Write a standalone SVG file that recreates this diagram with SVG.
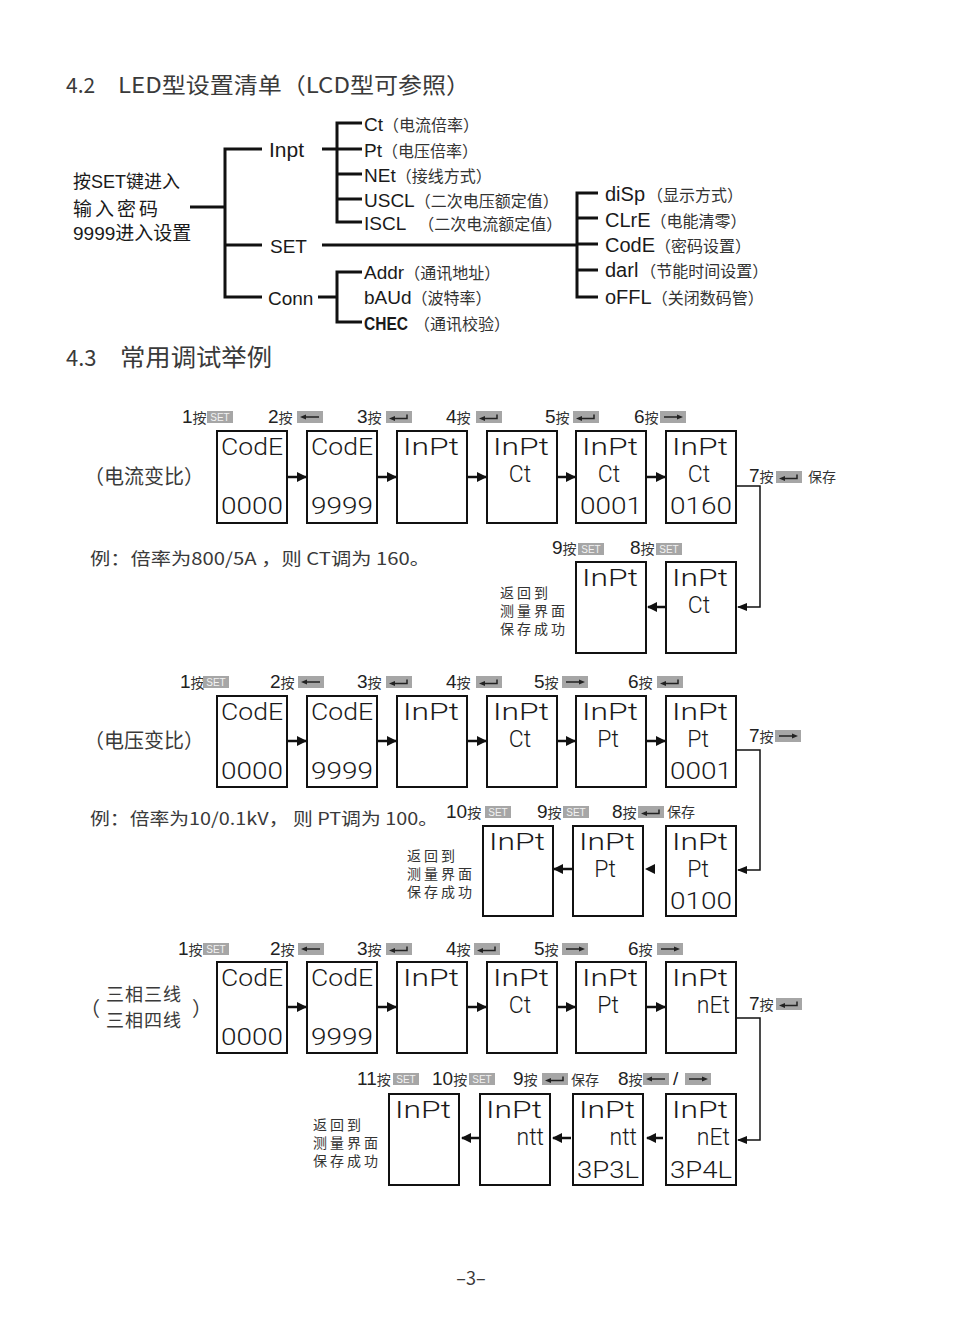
<svg xmlns="http://www.w3.org/2000/svg" xmlns:xlink="http://www.w3.org/1999/xlink" width="957" height="1326" viewBox="0 0 957 1326">
<style>
.h{font-family:"Noto Sans CJK SC","Liberation Sans",sans-serif;fill:#3a3a3a}
.t{font-family:"Liberation Sans","Noto Sans CJK SC",sans-serif;fill:#1a1a1a}
.a{font-family:"Noto Sans CJK SC",sans-serif;font-size:16px;fill:#333}
.tr{fill:none;stroke:#111;stroke-width:3}
.box{fill:#fff;stroke:#111;stroke-width:2}
.lcd{font-family:Roboto,"Liberation Sans",sans-serif;font-weight:300;font-size:23px;fill:#1a1a1a}
.n{font-family:"Liberation Sans",sans-serif;font-size:19px;fill:#222}
.p{font-family:"Noto Sans CJK SC",sans-serif;font-size:14px;fill:#333}
.c{font-family:"Noto Sans CJK SC",sans-serif;font-size:14px;fill:#333;letter-spacing:3px}
.ar{fill:none;stroke:#111;stroke-width:2.5}
.cn{fill:none;stroke:#111;stroke-width:1.5}
</style>
<defs>
<marker id="ah" markerWidth="10" markerHeight="10" refX="9" refY="5" orient="auto" markerUnits="userSpaceOnUse"><path d="M0,0 L10,5 L0,10 z" fill="#111"/></marker>
<marker id="ah2" markerWidth="10" markerHeight="8" refX="9" refY="4" orient="auto" markerUnits="userSpaceOnUse"><path d="M0,0 L10,4 L0,8 z" fill="#111"/></marker>
<g id="bS"><rect width="26" height="12" fill="#a6a6a6"/><text x="13" y="10" font-family="Liberation Sans,sans-serif" font-size="10" fill="#f2f2f2" text-anchor="middle">SET</text></g>
<g id="bL"><rect width="26" height="12" fill="#a6a6a6"/><path d="M7,6 H22" stroke="#222" stroke-width="1.5"/><path d="M3,6 L9,3.5 L9,8.5 z" fill="#222"/></g>
<g id="bR"><rect width="26" height="12" fill="#a6a6a6"/><path d="M4,6 H19" stroke="#222" stroke-width="1.5"/><path d="M23,6 L17,3.5 L17,8.5 z" fill="#222"/></g>
<g id="bE"><rect width="26" height="12" fill="#a6a6a6"/><path d="M7,7.5 H21 V3.5" fill="none" stroke="#222" stroke-width="1.5"/><path d="M3,7.5 L9,5 L9,10 z" fill="#222"/></g>
</defs>
<rect width="957" height="1326" fill="#fff"/>

<!-- headings -->
<g id="head42">
<text class="h" x="66" y="93" font-size="21">4.2</text>
<text class="h" x="118" y="93" font-size="22" textLength="352" lengthAdjust="spacingAndGlyphs">LED型设置清单（LCD型可参照）</text>
</g>
<g id="head43">
<text class="h" x="66" y="366" font-size="22">4.3</text>
<text class="h" x="120" y="366" font-size="24" textLength="152" lengthAdjust="spacingAndGlyphs">常用调试举例</text>
</g>

<!-- tree -->
<g id="tree-lines">
<path class="tr" d="M190,207 H225 M225,147.5 V298.5 M225,149 H262 M225,245 H262 M225,297 H262"/>
<path class="tr" d="M322,149 H337 M337,121.5 V223.5 M337,123 H362 M337,149 H362 M337,174 H362 M337,199 H362 M337,222 H362"/>
<path class="tr" d="M322,245 H577 M577,191.5 V298.5 M577,193 H598 M577,218 H598 M577,244 H598 M577,270 H598 M577,297 H598"/>
<path class="tr" d="M318,297 H337 M337,270.5 V323.5 M337,272 H362 M337,322 H362"/>
</g>
<g id="tree-root">
<text class="t" x="73" y="188" font-size="18">按SET键进入</text>
<text class="t" x="73" y="216" font-size="19" letter-spacing="3">输入密码</text>
<text class="t" x="73" y="240" font-size="19">9999进入设置</text>
</g>
<g id="n-inpt"><text class="t" x="269" y="157" font-size="21">Inpt</text></g>
<g id="n-set"><text class="t" x="270" y="253" font-size="19">SET</text></g>
<g id="n-conn"><text class="t" x="268" y="305" font-size="19">Conn</text></g>
<g id="n-ct"><text class="t" x="364" y="131" font-size="19">Ct<tspan class="a">（电流倍率）</tspan></text></g>
<g id="n-pt"><text class="t" x="364" y="157" font-size="19">Pt<tspan class="a">（电压倍率）</tspan></text></g>
<g id="n-net"><text class="t" x="364" y="182" font-size="19">NEt<tspan class="a">（接线方式）</tspan></text></g>
<g id="n-uscl"><text class="t" x="364" y="207" font-size="19">USCL<tspan class="a">（二次电压额定值）</tspan></text></g>
<g id="n-iscl"><text class="t" x="364" y="230" font-size="19">ISCL<tspan class="a" dx="12">（二次电流额定值）</tspan></text></g>
<g id="n-disp"><text class="t" x="605" y="201" font-size="20">diSp<tspan class="a" dx="2">（显示方式）</tspan></text></g>
<g id="n-clre"><text class="t" x="605" y="227" font-size="20">CLrE<tspan class="a">（电能清零）</tspan></text></g>
<g id="n-code"><text class="t" x="605" y="252" font-size="20">CodE<tspan class="a">（密码设置）</tspan></text></g>
<g id="n-darl"><text class="t" x="605" y="277" font-size="20">darl<tspan class="a" dx="2">（节能时间设置）</tspan></text></g>
<g id="n-offl"><text class="t" x="605" y="304" font-size="20">oFFL<tspan class="a">（关闭数码管）</tspan></text></g>
<g id="n-addr"><text class="t" x="364" y="279" font-size="19">Addr<tspan class="a">（通讯地址）</tspan></text></g>
<g id="n-baud"><text class="t" x="364" y="304" font-size="19">bAUd<tspan class="a">（波特率）</tspan></text></g>
<g id="n-chec"><text class="t" x="364" y="330" font-size="19" font-weight="bold" textLength="44" lengthAdjust="spacingAndGlyphs">CHEC</text><text class="a" x="414" y="330">（通讯校验）</text></g>

<!-- ===== Example 1 ===== -->
<g id="ex1-title"><text class="h" x="84" y="484" font-size="20">（电流变比）</text></g>
<g id="ex1-note"><text class="h" x="90" y="565" font-size="17" textLength="340" lengthAdjust="spacingAndGlyphs">例：倍率为800/5A ，则 CT调为 160。</text></g>
<g id="ex1-labels">
<text x="182" y="423"><tspan class="n">1</tspan><tspan class="p">按</tspan></text><use href="#bS" x="207" y="411"/>
<text x="268" y="423"><tspan class="n">2</tspan><tspan class="p">按</tspan></text><use href="#bL" x="297" y="411"/>
<text x="357" y="423"><tspan class="n">3</tspan><tspan class="p">按</tspan></text><use href="#bE" x="386" y="411"/>
<text x="446" y="423"><tspan class="n">4</tspan><tspan class="p">按</tspan></text><use href="#bE" x="476" y="411"/>
<text x="545" y="423"><tspan class="n">5</tspan><tspan class="p">按</tspan></text><use href="#bE" x="573" y="411"/>
<text x="634" y="423"><tspan class="n">6</tspan><tspan class="p">按</tspan></text><use href="#bR" x="660" y="411"/>
<text x="749" y="482"><tspan class="n">7</tspan><tspan class="p">按</tspan></text><use href="#bE" x="776" y="471"/><text class="p" x="808" y="482">保存</text>
<text x="552" y="554"><tspan class="n">9</tspan><tspan class="p">按</tspan></text><use href="#bS" x="578" y="543"/>
<text x="630" y="554"><tspan class="n">8</tspan><tspan class="p">按</tspan></text><use href="#bS" x="656" y="543"/>
</g>
<g id="ex1-b1"><rect class="box" x="217" y="431" width="70" height="92"/><text class="lcd" x="221" y="455" textLength="62" lengthAdjust="spacingAndGlyphs">CodE</text><text class="lcd" x="221" y="514" textLength="62" lengthAdjust="spacingAndGlyphs">0000</text></g>
<g id="ex1-b2"><rect class="box" x="307" y="431" width="70" height="92"/><text class="lcd" x="311" y="455" textLength="62" lengthAdjust="spacingAndGlyphs">CodE</text><text class="lcd" x="311" y="514" textLength="62" lengthAdjust="spacingAndGlyphs">9999</text></g>
<g id="ex1-b3"><rect class="box" x="397" y="431" width="70" height="92"/><text class="lcd" x="403" y="455" textLength="56" lengthAdjust="spacingAndGlyphs">InPt</text></g>
<g id="ex1-b4"><rect class="box" x="487" y="431" width="70" height="92"/><text class="lcd" x="493" y="455" textLength="56" lengthAdjust="spacingAndGlyphs">InPt</text><text class="lcd" x="520" y="482" text-anchor="middle">Ct</text></g>
<g id="ex1-b5"><rect class="box" x="576" y="431" width="70" height="92"/><text class="lcd" x="582" y="455" textLength="56" lengthAdjust="spacingAndGlyphs">InPt</text><text class="lcd" x="609" y="482" text-anchor="middle">Ct</text><text class="lcd" x="580" y="514" textLength="62" lengthAdjust="spacingAndGlyphs">0001</text></g>
<g id="ex1-b6"><rect class="box" x="666" y="431" width="70" height="92"/><text class="lcd" x="672" y="455" textLength="56" lengthAdjust="spacingAndGlyphs">InPt</text><text class="lcd" x="699" y="482" text-anchor="middle">Ct</text><text class="lcd" x="670" y="514" textLength="62" lengthAdjust="spacingAndGlyphs">0160</text></g>
<g id="ex1-b8"><rect class="box" x="666" y="562" width="70" height="91"/><text class="lcd" x="672" y="586" textLength="56" lengthAdjust="spacingAndGlyphs">InPt</text><text class="lcd" x="699" y="613" text-anchor="middle">Ct</text></g>
<g id="ex1-b9"><rect class="box" x="576" y="562" width="70" height="91"/><text class="lcd" x="582" y="586" textLength="56" lengthAdjust="spacingAndGlyphs">InPt</text></g>
<g id="ex1-ret"><text class="c" x="500" y="598">返回到</text><text class="c" x="500" y="616">测量界面</text><text class="c" x="500" y="634">保存成功</text></g>

<!-- ===== Example 2 ===== -->
<g id="ex2-title"><text class="h" x="84" y="748" font-size="20">（电压变比）</text></g>
<g id="ex2-note"><text class="h" x="90" y="825" font-size="17" textLength="348" lengthAdjust="spacingAndGlyphs">例：倍率为10/0.1kV， 则 PT调为 100。</text></g>
<g id="ex2-labels">
<text x="180" y="688"><tspan class="n">1</tspan><tspan class="p">按</tspan></text><use href="#bS" x="203" y="676"/>
<text x="270" y="688"><tspan class="n">2</tspan><tspan class="p">按</tspan></text><use href="#bL" x="298" y="676"/>
<text x="357" y="688"><tspan class="n">3</tspan><tspan class="p">按</tspan></text><use href="#bE" x="386" y="676"/>
<text x="446" y="688"><tspan class="n">4</tspan><tspan class="p">按</tspan></text><use href="#bE" x="476" y="676"/>
<text x="534" y="688"><tspan class="n">5</tspan><tspan class="p">按</tspan></text><use href="#bR" x="562" y="676"/>
<text x="628" y="688"><tspan class="n">6</tspan><tspan class="p">按</tspan></text><use href="#bE" x="657" y="676"/>
<text x="749" y="742"><tspan class="n">7</tspan><tspan class="p">按</tspan></text><use href="#bR" x="775" y="730"/>
<text x="446" y="818"><tspan class="n">10</tspan><tspan class="p">按</tspan></text><use href="#bS" x="485" y="806"/>
<text x="537" y="818"><tspan class="n">9</tspan><tspan class="p">按</tspan></text><use href="#bS" x="563" y="806"/>
<text x="612" y="818"><tspan class="n">8</tspan><tspan class="p">按</tspan></text><use href="#bE" x="638" y="806"/><text class="p" x="667" y="817">保存</text>
</g>
<g id="ex2-b1"><rect class="box" x="217" y="696" width="70" height="91"/><text class="lcd" x="221" y="720" textLength="62" lengthAdjust="spacingAndGlyphs">CodE</text><text class="lcd" x="221" y="779" textLength="62" lengthAdjust="spacingAndGlyphs">0000</text></g>
<g id="ex2-b2"><rect class="box" x="307" y="696" width="70" height="91"/><text class="lcd" x="311" y="720" textLength="62" lengthAdjust="spacingAndGlyphs">CodE</text><text class="lcd" x="311" y="779" textLength="62" lengthAdjust="spacingAndGlyphs">9999</text></g>
<g id="ex2-b3"><rect class="box" x="397" y="696" width="70" height="91"/><text class="lcd" x="403" y="720" textLength="56" lengthAdjust="spacingAndGlyphs">InPt</text></g>
<g id="ex2-b4"><rect class="box" x="487" y="696" width="70" height="91"/><text class="lcd" x="493" y="720" textLength="56" lengthAdjust="spacingAndGlyphs">InPt</text><text class="lcd" x="520" y="747" text-anchor="middle">Ct</text></g>
<g id="ex2-b5"><rect class="box" x="576" y="696" width="70" height="91"/><text class="lcd" x="582" y="720" textLength="56" lengthAdjust="spacingAndGlyphs">InPt</text><text class="lcd" x="608" y="747" text-anchor="middle">Pt</text></g>
<g id="ex2-b6"><rect class="box" x="666" y="696" width="70" height="91"/><text class="lcd" x="672" y="720" textLength="56" lengthAdjust="spacingAndGlyphs">InPt</text><text class="lcd" x="698" y="747" text-anchor="middle">Pt</text><text class="lcd" x="670" y="779" textLength="62" lengthAdjust="spacingAndGlyphs">0001</text></g>
<g id="ex2-b7"><rect class="box" x="666" y="826" width="70" height="90"/><text class="lcd" x="672" y="850" textLength="56" lengthAdjust="spacingAndGlyphs">InPt</text><text class="lcd" x="698" y="877" text-anchor="middle">Pt</text><text class="lcd" x="670" y="909" textLength="62" lengthAdjust="spacingAndGlyphs">0100</text></g>
<g id="ex2-b9"><rect class="box" x="573" y="826" width="70" height="90"/><text class="lcd" x="579" y="850" textLength="56" lengthAdjust="spacingAndGlyphs">InPt</text><text class="lcd" x="605" y="877" text-anchor="middle">Pt</text></g>
<g id="ex2-b10"><rect class="box" x="483" y="826" width="70" height="90"/><text class="lcd" x="489" y="850" textLength="56" lengthAdjust="spacingAndGlyphs">InPt</text></g>
<g id="ex2-ret"><text class="c" x="407" y="861">返回到</text><text class="c" x="407" y="879">测量界面</text><text class="c" x="407" y="897">保存成功</text></g>

<!-- ===== Example 3 ===== -->
<g id="ex3-title">
<text class="h" x="80" y="1016" font-size="20">（</text>
<text class="h" x="106" y="1001" font-size="18" letter-spacing="1">三相三线</text>
<text class="h" x="106" y="1027" font-size="18" letter-spacing="1">三相四线</text>
<text class="h" x="192" y="1016" font-size="20">）</text>
</g>
<g id="ex3-labels">
<text x="178" y="955"><tspan class="n">1</tspan><tspan class="p">按</tspan></text><use href="#bS" x="203" y="943"/>
<text x="270" y="955"><tspan class="n">2</tspan><tspan class="p">按</tspan></text><use href="#bL" x="298" y="943"/>
<text x="357" y="955"><tspan class="n">3</tspan><tspan class="p">按</tspan></text><use href="#bE" x="386" y="943"/>
<text x="446" y="955"><tspan class="n">4</tspan><tspan class="p">按</tspan></text><use href="#bE" x="474" y="943"/>
<text x="534" y="955"><tspan class="n">5</tspan><tspan class="p">按</tspan></text><use href="#bR" x="562" y="943"/>
<text x="628" y="955"><tspan class="n">6</tspan><tspan class="p">按</tspan></text><use href="#bR" x="657" y="943"/>
<text x="749" y="1010"><tspan class="n">7</tspan><tspan class="p">按</tspan></text><use href="#bE" x="776" y="998"/>
<text x="357" y="1085"><tspan class="n">11</tspan><tspan class="p">按</tspan></text><use href="#bS" x="393" y="1073"/>
<text x="432" y="1085"><tspan class="n">10</tspan><tspan class="p">按</tspan></text><use href="#bS" x="469" y="1073"/>
<text x="513" y="1085"><tspan class="n">9</tspan><tspan class="p">按</tspan></text><use href="#bE" x="542" y="1073"/><text class="p" x="571" y="1085">保存</text>
<text x="618" y="1085"><tspan class="n">8</tspan><tspan class="p">按</tspan></text><use href="#bL" x="643" y="1073"/><text class="n" x="673" y="1085" font-size="17">/</text><use href="#bR" x="685" y="1073"/>
</g>
<g id="ex3-b1"><rect class="box" x="217" y="962" width="70" height="91"/><text class="lcd" x="221" y="986" textLength="62" lengthAdjust="spacingAndGlyphs">CodE</text><text class="lcd" x="221" y="1045" textLength="62" lengthAdjust="spacingAndGlyphs">0000</text></g>
<g id="ex3-b2"><rect class="box" x="307" y="962" width="70" height="91"/><text class="lcd" x="311" y="986" textLength="62" lengthAdjust="spacingAndGlyphs">CodE</text><text class="lcd" x="311" y="1045" textLength="62" lengthAdjust="spacingAndGlyphs">9999</text></g>
<g id="ex3-b3"><rect class="box" x="397" y="962" width="70" height="91"/><text class="lcd" x="403" y="986" textLength="56" lengthAdjust="spacingAndGlyphs">InPt</text></g>
<g id="ex3-b4"><rect class="box" x="487" y="962" width="70" height="91"/><text class="lcd" x="493" y="986" textLength="56" lengthAdjust="spacingAndGlyphs">InPt</text><text class="lcd" x="520" y="1013" text-anchor="middle">Ct</text></g>
<g id="ex3-b5"><rect class="box" x="576" y="962" width="70" height="91"/><text class="lcd" x="582" y="986" textLength="56" lengthAdjust="spacingAndGlyphs">InPt</text><text class="lcd" x="608" y="1013" text-anchor="middle">Pt</text></g>
<g id="ex3-b6"><rect class="box" x="666" y="962" width="70" height="91"/><text class="lcd" x="672" y="986" textLength="56" lengthAdjust="spacingAndGlyphs">InPt</text><text class="lcd" x="730" y="1013" text-anchor="end">nEt</text></g>
<g id="ex3-b8"><rect class="box" x="666" y="1094" width="70" height="91"/><text class="lcd" x="672" y="1118" textLength="56" lengthAdjust="spacingAndGlyphs">InPt</text><text class="lcd" x="730" y="1145" text-anchor="end">nEt</text><text class="lcd" x="670" y="1178" textLength="62" lengthAdjust="spacingAndGlyphs">3P4L</text></g>
<g id="ex3-b9"><rect class="box" x="573" y="1094" width="70" height="91"/><text class="lcd" x="579" y="1118" textLength="56" lengthAdjust="spacingAndGlyphs">InPt</text><text class="lcd" x="637" y="1145" text-anchor="end">ntt</text><text class="lcd" x="577" y="1178" textLength="62" lengthAdjust="spacingAndGlyphs">3P3L</text></g>
<g id="ex3-b10"><rect class="box" x="480" y="1094" width="70" height="91"/><text class="lcd" x="486" y="1118" textLength="56" lengthAdjust="spacingAndGlyphs">InPt</text><text class="lcd" x="544" y="1145" text-anchor="end">ntt</text></g>
<g id="ex3-b11"><rect class="box" x="389" y="1094" width="70" height="91"/><text class="lcd" x="395" y="1118" textLength="56" lengthAdjust="spacingAndGlyphs">InPt</text></g>
<g id="ex3-ret"><text class="c" x="313" y="1130">返回到</text><text class="c" x="313" y="1148">测量界面</text><text class="c" x="313" y="1166">保存成功</text></g>

<!-- connectors -->
<g id="connectors">
<path class="ar" marker-end="url(#ah)" d="M288,477 H306"/>
<path class="ar" marker-end="url(#ah)" d="M378,477 H396"/>
<path class="ar" marker-end="url(#ah)" d="M468,477 H486"/>
<path class="ar" marker-end="url(#ah)" d="M558,477 H575"/>
<path class="ar" marker-end="url(#ah)" d="M647,477 H665"/>
<path class="cn" marker-end="url(#ah2)" d="M737,486 H760 V607 H738"/>
<path class="ar" marker-end="url(#ah)" d="M665,607 H648"/>

<path class="ar" marker-end="url(#ah)" d="M288,741 H306"/>
<path class="ar" marker-end="url(#ah)" d="M378,741 H396"/>
<path class="ar" marker-end="url(#ah)" d="M468,741 H486"/>
<path class="ar" marker-end="url(#ah)" d="M558,741 H575"/>
<path class="ar" marker-end="url(#ah)" d="M647,741 H665"/>
<path class="cn" marker-end="url(#ah2)" d="M737,750 H760 V870 H738"/>
<path d="M645,869 L655,864 L655,874 z" fill="#111"/>
<path class="ar" marker-end="url(#ah)" d="M572,869 H554"/>

<path class="ar" marker-end="url(#ah)" d="M288,1007 H306"/>
<path class="ar" marker-end="url(#ah)" d="M378,1007 H396"/>
<path class="ar" marker-end="url(#ah)" d="M468,1007 H486"/>
<path class="ar" marker-end="url(#ah)" d="M558,1007 H575"/>
<path class="ar" marker-end="url(#ah)" d="M647,1007 H665"/>
<path class="cn" marker-end="url(#ah2)" d="M737,1018 H760 V1140 H738"/>
<path class="ar" marker-end="url(#ah)" d="M663,1138 H647"/>
<path class="ar" marker-end="url(#ah)" d="M571,1138 H553"/>
<path class="ar" marker-end="url(#ah)" d="M479,1138 H462"/>
</g>

<g id="pageno"><text class="h" x="471" y="1285" font-size="18" text-anchor="middle">–3–</text></g>
</svg>
